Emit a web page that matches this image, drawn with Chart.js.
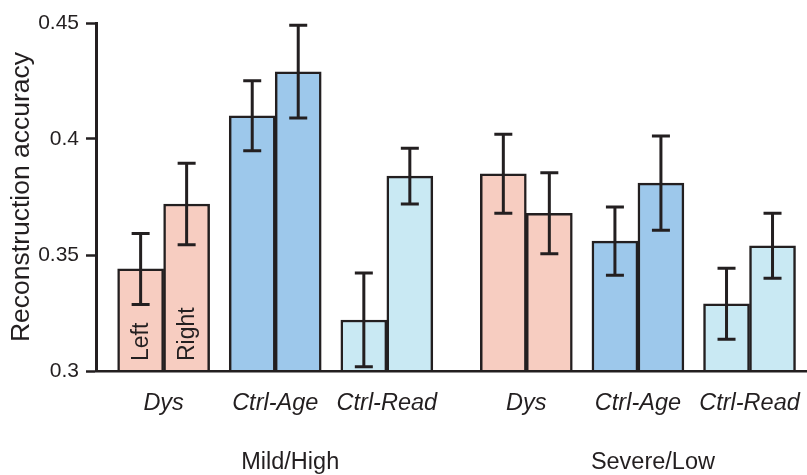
<!DOCTYPE html>
<html><head><meta charset="utf-8">
<script src="https://cdn.jsdelivr.net/npm/chart.js@4/dist/chart.umd.min.js"></script>
<style>html,body{margin:0;padding:0;background:#fff}</style>
</head><body>
<canvas id="c" width="807" height="475"></canvas>
<script>
// ---- data ----
const categories = ['Dys', 'Ctrl-Age', 'Ctrl-Read', 'Dys', 'Ctrl-Age', 'Ctrl-Read'];
const severityGroups = ['Mild/High', 'Severe/Low'];
const seriesNames = ['Left', 'Right'];
const leftValues = [0.344, 0.410, 0.322, 0.385, 0.356, 0.329];
const rightValues = [0.372, 0.429, 0.384, 0.368, 0.381, 0.354];
const leftErrors = [0.0153, 0.0151, 0.0202, 0.0170, 0.0147, 0.0153];
const rightErrors = [0.0176, 0.0200, 0.0120, 0.0175, 0.0203, 0.0140];
const yTicks = [0.3, 0.35, 0.4, 0.45];

// ---- styling / layout ----
const FONT = '"Liberation Sans", Arial, Helvetica, sans-serif';
const INK = '#231F20';
const groupColors = { 'Dys': '#F7CDC1', 'Ctrl-Age': '#9DC8EB', 'Ctrl-Read': '#C9E9F3' };
const GAP = 0.25; // extra spacing between severity halves (in category units)
const xPos = categories.map((c, i) => i + (i >= 3 ? GAP : 0));
const colors = categories.map(c => groupColors[c]);

const values = [leftValues, rightValues];
const errors = [leftErrors, rightErrors];

const datasets = values.map((vals, d) => ({
  label: seriesNames[d],
  data: vals.map((v, i) => ({ x: xPos[i], y: v })),
  backgroundColor: colors,
  borderColor: INK,
  borderWidth: 2.5,
  borderSkipped: 'bottom',
  barThickness: 46
}));

const overlay = {
  id: 'overlay',
  afterDatasetsDraw(chart) {
    const ctx = chart.ctx, ys = chart.scales.y;
    ctx.save();
    ctx.strokeStyle = INK;
    ctx.lineWidth = 3;
    ctx.lineCap = 'butt';
    chart.data.datasets.forEach((ds, d) => {
      chart.getDatasetMeta(d).data.forEach((bar, i) => {
        const v = values[d][i], e = errors[d][i];
        const yt = ys.getPixelForValue(v + e), yb = ys.getPixelForValue(v - e), x = bar.x;
        ctx.beginPath();
        ctx.moveTo(x, yt); ctx.lineTo(x, yb);
        ctx.moveTo(x - 9, yt); ctx.lineTo(x + 9, yt);
        ctx.moveTo(x - 9, yb); ctx.lineTo(x + 9, yb);
        ctx.stroke();
      });
    });
    // series labels inside the first pair of bars
    ctx.fillStyle = INK;
    ctx.font = '23px ' + FONT;
    ctx.textAlign = 'left';
    ctx.textBaseline = 'middle';
    chart.data.datasets.forEach((ds, d) => {
      const bar = chart.getDatasetMeta(d).data[0];
      ctx.save();
      ctx.translate(bar.x + 1, chart.chartArea.bottom - 10);
      ctx.rotate(-Math.PI / 2);
      ctx.fillText(seriesNames[d], 0, 0);
      ctx.restore();
    });
    ctx.restore();
  },
  afterDraw(chart) {
    const ctx = chart.ctx, xs = chart.scales.x;
    ctx.save();
    ctx.fillStyle = INK;
    ctx.font = '23.5px ' + FONT;
    ctx.textAlign = 'center';
    ctx.textBaseline = 'alphabetic';
    severityGroups.forEach((g, k) => {
      const x = xs.getPixelForValue(xPos[k * 3 + 1]) + 15;
      ctx.fillText(g, x, chart.chartArea.bottom + 98);
    });
    ctx.restore();
  }
};

new Chart(document.getElementById('c'), {
  type: 'bar',
  data: { datasets },
  plugins: [overlay],
  options: {
    responsive: false,
    animation: false,
    devicePixelRatio: 1,
    layout: { padding: { top: 23, left: 0, right: 0, bottom: 0 } },
    plugins: { legend: { display: false }, tooltip: { enabled: false } },
    scales: {
      x: {
        type: 'linear',
        offset: false,
        min: -0.606,
        max: 5.765,
        afterFit: s => { s.height = 104; s.paddingLeft = 0; s.paddingRight = 0; },
        afterBuildTicks: s => { s.ticks = xPos.map(v => ({ value: v })); },
        grid: { display: false, drawTicks: false, offset: false },
        border: { display: true, color: INK, width: 2.5, z: 1 },
        ticks: {
          autoSkip: false,
          maxRotation: 0,
          padding: 18,
          color: INK,
          font: { family: FONT, size: 23.5, style: 'italic' },
          callback: (v, i) => categories[i]
        }
      },
      y: {
        min: 0.3,
        max: 0.45,
        afterFit: s => { s.width = 96; },
        afterBuildTicks: s => { s.ticks = yTicks.map(v => ({ value: v })); },
        grid: { drawOnChartArea: false, drawTicks: true, tickLength: 10, tickWidth: 2.5, tickColor: INK },
        border: { display: true, color: INK, width: 3, z: 1 },
        ticks: {
          padding: 7,
          color: INK,
          font: { family: FONT, size: 21 },
          callback: v => String(v)
        },
        title: {
          display: true,
          text: 'Reconstruction accuracy',
          color: INK,
          font: { family: FONT, size: 26.5 },
          padding: { top: 6, bottom: 0 }
        }
      }
    }
  }
});
</script>
</body></html>
